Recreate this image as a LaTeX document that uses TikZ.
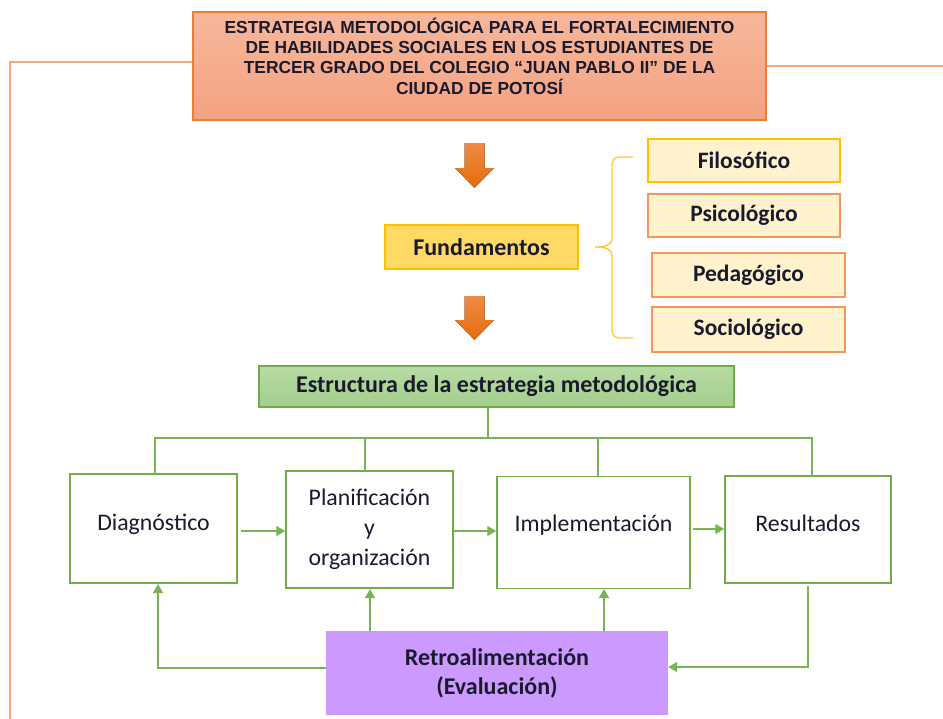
\documentclass[tikz,border=0pt]{standalone}
\usepackage{fontspec}
\setmainfont{Carlito}
\newfontfamily\titlefont{Liberation Sans}
\usetikzlibrary{arrows.meta,calc}
\definecolor{orTitleA}{HTML}{F7B79A}
\definecolor{orTitleB}{HTML}{F4A282}
\definecolor{orBorder}{HTML}{ED7D31}
\definecolor{orLine}{HTML}{F5A875}
\definecolor{fundFill}{HTML}{FFD966}
\definecolor{fundBorder}{HTML}{FFC000}
\definecolor{paleFill}{HTML}{FFF2CC}
\definecolor{grBorder}{HTML}{70AD47}
\definecolor{grFillA}{HTML}{B8DBA5}
\definecolor{grFillB}{HTML}{A2CE8A}
\definecolor{grLine}{HTML}{78B456}
\definecolor{purp}{HTML}{CC99FF}
\definecolor{arrA}{HTML}{F08A45}
\definecolor{arrB}{HTML}{E46C0A}
\definecolor{txt}{HTML}{1A1A2E}
\tikzset{
  x=1pt,y=-1pt,
  titlebox/.style={draw=orBorder,line width=1.2pt,top color=orTitleA,bottom color=orTitleB,
     minimum width=573pt,minimum height=108pt,align=center,inner sep=0pt,
     font=\titlefont\bfseries\fontsize{17.4}{20}\selectfont,text=txt},
  fundbox/.style={draw=fundBorder,line width=1.2pt,fill=fundFill,minimum width=193pt,minimum height=44pt,
     font=\bfseries\fontsize{24}{26}\selectfont,text=txt,inner sep=0pt},
  subbox/.style={draw=#1,line width=1.2pt,fill=paleFill,minimum width=192pt,minimum height=43pt,
     font=\bfseries\fontsize{23.5}{26}\selectfont,text=txt,inner sep=0pt},
  greenhead/.style={draw=grBorder,line width=1.2pt,top color=grFillA,bottom color=grFillB,
     minimum width=475pt,minimum height=41pt,font=\bfseries\fontsize{24}{26}\selectfont,text=txt,inner sep=0pt},
  stagebox/.style={draw=grBorder,line width=1.5pt,fill=white,minimum width=#1,align=center,
     font=\fontsize{23.8}{30}\selectfont,text=txt,inner sep=0pt},
  retrobox/.style={fill=purp,minimum width=342pt,minimum height=84pt,align=center,
     font=\bfseries\fontsize{24}{29}\selectfont,text=txt,inner sep=0pt},
  orline/.style={draw=orLine,line width=2.4pt},
  gline/.style={draw=grLine,line width=1.6pt},
  garrow/.style={draw=grLine,line width=1.6pt,-{Triangle[width=10pt,length=9pt]}},
  blockarrow/.style={left color=arrA,right color=arrB,shading angle=0},
}
\begin{document}
\begin{tikzpicture}
\useasboundingbox (0,0) rectangle (943,718);

% orange frame lines
\coordinate (lcorner) at (10,62);
\coordinate (lbottom) at (10,720);
\coordinate (rend) at (945,66);

\node[titlebox] (title) at (479.5,66) {\begin{tabular}{@{}c@{}}ESTRATEGIA METODOLÓGICA PARA EL FORTALECIMIENTO\\
DE HABILIDADES SOCIALES EN LOS ESTUDIANTES DE\\
TERCER GRADO DEL COLEGIO “JUAN PABLO II” DE LA\\
CIUDAD DE POTOSÍ\\[14pt]\end{tabular}};

\draw[orline] (title.west |- lcorner) -- (lcorner) -- (lbottom);
\draw[orline] (title.east) -- (rend);

% block arrows
\fill[blockarrow] (464.5,143) -- (484.5,143) -- (484.5,168) -- (494,168) -- (474.5,188) -- (455,168) -- (464.5,168) -- cycle;
\fill[blockarrow] (464.5,296) -- (484.5,296) -- (484.5,320) -- (494,320) -- (474.5,340) -- (455,320) -- (464.5,320) -- cycle;

\node[fundbox] (fund) at (481.5,247) {Fundamentos};

\node[subbox=fundBorder] (filo) at (744,160.5) {Filosófico};
\node[subbox=orBorder!80] (psic) at (744,215.5) {Psicológico};
\node[subbox=orBorder!80,minimum width=193pt,minimum height=44pt] (peda) at (748.5,275) {Pedagógico};
\node[subbox=orBorder!80,minimum width=193pt,minimum height=45pt] (soci) at (748.5,329.5) {Sociológico};

% brace
\coordinate (btip) at (595,247);
\draw[draw=fundBorder!85,line width=1.3pt]
  (633,157) -- (622,157) .. controls (614,157) and (612,159) .. (612,167)
  -- (612,238) .. controls (612,245) and (606,247) .. (btip)
  .. controls (606,247) and (612,249) .. (612,256)
  -- (612,328) .. controls (612,336) and (614,338) .. (622,338) -- (633,338);

\node[greenhead] (estr) at (496.5,386.5) {Estructura de la estrategia metodológica};

\node[stagebox=167pt,minimum height=109pt] (diag) at (153.5,528.5) {\raisebox{12pt}{Diagnóstico}};
\node[stagebox=167pt,minimum height=117pt] (plan) at (369.5,529.5) {Planificación\\y\\organización};
\node[stagebox=193pt,minimum height=112pt] (impl) at (593.5,532.5) {\raisebox{18pt}{Implementación}};
\node[stagebox=166pt,minimum height=107pt] (res) at (808,529.5) {\raisebox{13pt}{Resultados}};

\node[retrobox] (retro) at (497,673) {Retroalimentación\\(Evaluación)};

% bus
\coordinate (bus) at (488,438);
\coordinate (dtop) at (155,474);
\coordinate (ptop) at (365,471);
\coordinate (itop) at (598,476);
\coordinate (rtop) at (812,476);
\draw[gline] (estr.south -| bus) -- (bus);
\draw[gline] (dtop) |- (bus) -| (rtop);
\draw[gline] (ptop) -- (ptop |- bus);
\draw[gline] (itop) -- (itop |- bus);

% forward arrows
\draw[garrow] ([xshift=3pt]diag.east |- 0,531) -- (plan.west |- 0,531);
\draw[garrow] (plan.east |- 0,531) -- (impl.west |- 0,531);
\draw[garrow] ([xshift=2pt]impl.east |- 0,529) -- (res.west |- 0,529);

% feedback
\coordinate (dbot) at (158,584);
\coordinate (pbot) at (370,589);
\coordinate (ibot) at (604,589);
\coordinate (rbot) at (808,586);
\coordinate (rlow) at (808,667);
\draw[garrow] (retro.west |- 0,668) -| (dbot);
\draw[garrow] (retro.north -| pbot) -- (pbot);
\draw[garrow] (retro.north -| ibot) -- (ibot);
\draw[garrow] (rbot) -- (rlow) -- (retro.east |- rlow);
\end{tikzpicture}
\end{document}
